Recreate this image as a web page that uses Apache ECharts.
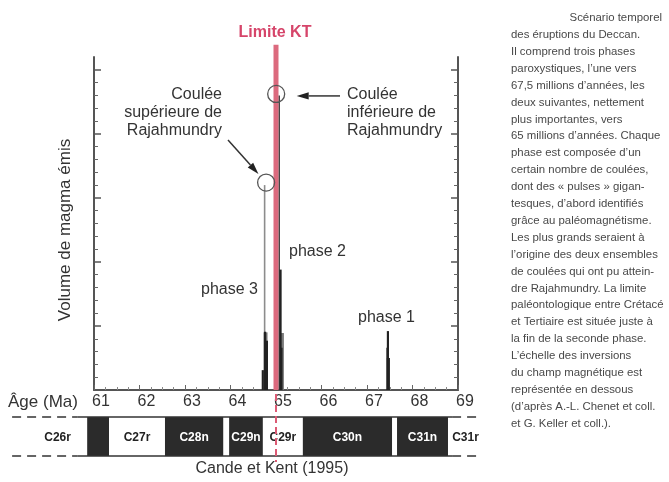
<!DOCTYPE html>
<html><head><meta charset="utf-8">
<script src="https://cdn.jsdelivr.net/npm/echarts@6/dist/echarts.min.js"></script>
<style>html,body{margin:0;padding:0;background:#fff}#c{width:669px;height:482px}</style>
</head><body><div id="c"></div>
<script>
// ---------- data ----------
const ageTicks = [61, 62, 63, 64, 65, 66, 67, 68, 69];
const volumeMajorTicks = [0, 1, 2, 3, 4, 5];
const volumeMinorTicks = [0.2,0.4,0.6,0.8,1.2,1.4,1.6,1.8,2.2,2.4,2.6,2.8,3.2,3.4,3.6,3.8,4.2,4.4,4.6,4.8];
const ktBoundaryAge = 65.0;

// big pulses (tall lines), phase 3 then phase 2
const tallPulseAge = [64.75, 65.07];
const tallPulseVolume = [3.2, 4.6];
// smaller pulses
const pulseAge    = [64.71, 64.76, 64.80, 65.10, 65.12, 67.45, 67.46, 67.46, 67.48];
const pulseVolume = [0.31, 0.91, 0.77, 1.88, 0.66, 0.66, 0.92, 0.50, 0.50];
const widePulseAge = [64.77, 65.13];
const widePulseVolume = [0.90, 0.89];

const phaseNames = ['phase 1', 'phase 2', 'phase 3'];

// magnetic polarity chrons (Cande et Kent 1995)
const chronNames  = ['C26r','C27n','C27r','C28n','C28r','C29n','C29r','C30n','C30r','C31n','C31r'];
const chronStart  = [59.55, 60.85, 61.33, 62.56, 63.84, 63.97, 64.71, 65.59, 67.55, 67.66, 68.78];
const chronEnd    = [60.85, 61.33, 62.56, 63.84, 63.97, 64.71, 65.59, 67.55, 67.66, 68.78, 69.55];
const chronNormal = [false, true, false, true, false, true, false, true, false, true, false];
const chronLabelShown = [true, false, true, true, false, true, true, true, false, true, true];
const bandSolidAges = [60.63, 68.87];
const bandDashedLeftAges = [59.2, 60.63];
const bandDashedRightAges = [68.87, 69.48];

const captionFirst = 'Scénario temporel';
const captionLines = [
  'des éruptions du Deccan.',
  'Il comprend trois phases',
  'paroxystiques, l\u2019une vers',
  '67,5 millions d\u2019années, les',
  'deux suivantes, nettement',
  'plus importantes, vers',
  '65 millions d\u2019années. Chaque',
  'phase est composée d\u2019un',
  'certain nombre de coulées,',
  'dont des « pulses » gigan-',
  'tesques, d\u2019abord identifiés',
  'grâce au paléomagnétisme.',
  'Les plus grands seraient à',
  'l\u2019origine des deux ensembles',
  'de coulées qui ont pu attein-',
  'dre Rajahmundry. La limite',
  'paléontologique entre Crétacé',
  'et Tertiaire est située juste à',
  'la fin de la seconde phase.',
  'L\u2019échelle des inversions',
  'du champ magnétique est',
  'représentée en dessous',
  '(d\u2019après A.-L. Chenet et coll.',
  'et G. Keller et coll.).'
];

// ---------- chart ----------
const FONT = 'Liberation Sans, Arial, Helvetica, sans-serif';
const chart = echarts.init(document.getElementById('c'), null, {renderer: 'canvas'});

function spikeRender(width, color) {
  return function (params, api) {
    const x = api.value(0), v = api.value(1);
    const p0 = api.coord([x, 0]);
    const p1 = api.coord([x, v]);
    return {type: 'rect', shape: {x: p0[0] - width / 2, y: p1[1], width: width, height: p0[1] - p1[1]},
            style: {fill: color}};
  };
}
function zip(a, b) { return a.map((v, i) => [v, b[i]]); }

const yBase = {type: 'value', min: 0, max: 5.2, gridIndex: 0, splitLine: {show: false}, axisLabel: {show: false}};
const axisLineStyle = {color: '#555', width: 2};

const option = {
  animation: false,
  backgroundColor: '#ffffff',
  textStyle: {fontFamily: FONT},
  grid: [
    {left: 94, top: 57, right: 211, bottom: 92},
    {left: 3, top: 417, right: 183.7, height: 39}
  ],
  xAxis: [
    {type: 'value', gridIndex: 0, min: ageTicks[0], max: ageTicks[ageTicks.length - 1], interval: 1,
     axisLine: {show: true, lineStyle: axisLineStyle},
     axisTick: {show: true, inside: true, length: 5, lineStyle: {color: '#666'}},
     minorTick: {show: true, splitNumber: 4, length: 3, lineStyle: {color: '#888'}},
     splitLine: {show: false},
     axisLabel: {show: true, fontSize: 16, color: '#333', margin: 4, padding: [0, 0, 0, 14], fontFamily: FONT}},
    {type: 'value', gridIndex: 1, min: 59, max: 69.6, show: false}
  ],
  yAxis: [
    Object.assign({}, yBase, {position: 'left', axisLine: {show: true, onZero: false, lineStyle: axisLineStyle},
      axisTick: {show: true, inside: true, length: 7, customValues: volumeMajorTicks, lineStyle: {color: '#555', width: 1.5}}}),
    Object.assign({}, yBase, {position: 'left', axisLine: {show: false},
      axisTick: {show: true, inside: true, length: 4, customValues: volumeMinorTicks, lineStyle: {color: '#666'}}}),
    Object.assign({}, yBase, {position: 'right', axisLine: {show: true, onZero: false, lineStyle: axisLineStyle},
      axisTick: {show: true, inside: true, length: 7, customValues: volumeMajorTicks, lineStyle: {color: '#555', width: 1.5}}}),
    Object.assign({}, yBase, {position: 'right', axisLine: {show: false},
      axisTick: {show: true, inside: true, length: 4, customValues: volumeMinorTicks, lineStyle: {color: '#666'}}}),
    {type: 'value', gridIndex: 1, min: 0, max: 1, show: false}
  ],
  series: [
    {type: 'custom', name: 'wide', xAxisIndex: 0, yAxisIndex: 0, z: 2,
     renderItem: spikeRender(4, '#7a7a7a'), data: zip(widePulseAge, widePulseVolume)},
    {type: 'custom', name: 'tall3', xAxisIndex: 0, yAxisIndex: 0, z: 3,
     renderItem: spikeRender(1.6, '#8c8c8c'), data: [[tallPulseAge[0], tallPulseVolume[0]]]},
    {type: 'custom', name: 'tall2', xAxisIndex: 0, yAxisIndex: 0, z: 3,
     renderItem: spikeRender(1.6, '#444'), data: [[tallPulseAge[1], tallPulseVolume[1]]]},
    {type: 'custom', name: 'pulses', xAxisIndex: 0, yAxisIndex: 0, z: 4,
     renderItem: spikeRender(2.2, '#222'), data: zip(pulseAge, pulseVolume)},
    {type: 'custom', name: 'chrons', xAxisIndex: 1, yAxisIndex: 4, z: 2,
     data: chronNames.map((n, i) => [chronStart[i], chronEnd[i], i]),
     renderItem: function (params, api) {
       const i = params.dataIndex;
       const s = api.coord([api.value(0), 0]);
       const e = api.coord([api.value(1), 1]);
       const children = [];
       if (chronNormal[i]) {
         children.push({type: 'rect', shape: {x: s[0], y: e[1], width: e[0] - s[0], height: s[1] - e[1]},
                        style: {fill: '#2b2b2b'}});
       }
       if (chronLabelShown[i]) {
         children.push({type: 'text', style: {text: chronNames[i], x: (s[0] + e[0]) / 2, y: (s[1] + e[1]) / 2 + 1,
           align: 'center', verticalAlign: 'middle', font: 'bold 12px ' + FONT,
           fill: chronNormal[i] ? '#ffffff' : '#222'}});
       }
       return {type: 'group', children: children};
     }},
    {type: 'custom', name: 'band', xAxisIndex: 1, yAxisIndex: 4, z: 3,
     data: [bandDashedLeftAges, bandSolidAges, bandDashedRightAges],
     renderItem: function (params, api) {
       const dashed = params.dataIndex !== 1;
       const a = api.coord([api.value(0), 0]);
       const b = api.coord([api.value(1), 1]);
       const st = {stroke: '#333', lineWidth: 1.6, lineDash: dashed ? [9, 6] : null};
       return {type: 'group', children: [
         {type: 'line', shape: {x1: a[0], y1: b[1], x2: b[0], y2: b[1]}, style: st},
         {type: 'line', shape: {x1: a[0], y1: a[1], x2: b[0], y2: a[1]}, style: st}
       ]};
     }}
  ]
};
chart.setOption(option);

// ---------- annotations anchored through the axes ----------
const toPx = (x, y) => chart.convertToPixel({xAxisIndex: 0, yAxisIndex: 0}, [x, y]);
const kt0 = toPx(ktBoundaryAge, 0);
const ktTop = toPx(ktBoundaryAge, 5.39);
const top3 = toPx(tallPulseAge[0], tallPulseVolume[0]);
const top2 = toPx(tallPulseAge[1], tallPulseVolume[1]);
const c3 = [top3[0] + 1.5, top3[1] - 2.5];
const c2 = [top2[0] - 3, top2[1] - 1.5];
const R = 8.5;

function arrow(from, to) {
  const dx = to[0] - from[0], dy = to[1] - from[1];
  const L = Math.sqrt(dx * dx + dy * dy), ux = dx / L, uy = dy / L;
  const hl = 12, hw = 3.6;
  const bx = to[0] - ux * hl, by = to[1] - uy * hl;
  return [
    {type: 'line', z: 20, shape: {x1: from[0], y1: from[1], x2: bx, y2: by}, style: {stroke: '#333', lineWidth: 1.5}},
    {type: 'polygon', z: 20, shape: {points: [to, [bx - uy * hw, by + ux * hw], [bx + uy * hw, by - ux * hw]]},
     style: {fill: '#222'}}
  ];
}
const a1from = [228, 140];
const d1 = [c3[0] - a1from[0], c3[1] - a1from[1]];
const d1L = Math.sqrt(d1[0] * d1[0] + d1[1] * d1[1]);
const a1to = [c3[0] - d1[0] / d1L * (R + 3), c3[1] - d1[1] / d1L * (R + 3)];
const a2from = [340, c2[1] + 2];
const a2to = [c2[0] + R + 12, c2[1] + 2];

const txt = (text, x, y, align, vAlign, font, fill, extra) =>
  Object.assign({type: 'text', z: 20, style: {text: text, x: x, y: y, align: align, verticalAlign: vAlign,
    font: font, fill: fill}}, extra || {});

const graphics = [
  // KT boundary
  {type: 'line', z: 15, shape: {x1: kt0[0], y1: ktTop[1], x2: kt0[0], y2: kt0[1]},
   style: {stroke: '#dc6a7e', lineWidth: 5}},
  {type: 'line', z: 15, shape: {x1: kt0[0], y1: kt0[1] + 4, x2: kt0[0], y2: 462},
   style: {stroke: '#dc5a74', lineWidth: 2, lineDash: [7, 4]}},
  txt('Limite KT', kt0[0] - 1, 33, 'center', 'middle', 'bold 16px ' + FONT, '#d6456a'),
  // circles
  {type: 'circle', z: 18, shape: {cx: c3[0], cy: c3[1], r: R}, style: {fill: 'none', stroke: '#555', lineWidth: 1.3}},
  {type: 'circle', z: 18, shape: {cx: c2[0], cy: c2[1], r: R}, style: {fill: 'none', stroke: '#555', lineWidth: 1.3}},
  ...arrow(a1from, a1to),
  ...arrow(a2from, a2to),
  txt('Coulée\nsupérieure de\nRajahmundry', 222, 86, 'right', 'top', '16px ' + FONT, '#333', {}),
  txt('Coulée\ninférieure de\nRajahmundry', 347, 86, 'left', 'top', '16px ' + FONT, '#333', {}),
  txt(phaseNames[2], 258, 290, 'right', 'middle', '16px ' + FONT, '#333'),
  txt(phaseNames[1], 289, 252, 'left', 'middle', '16px ' + FONT, '#333'),
  txt(phaseNames[0], 358, 318, 'left', 'middle', '16px ' + FONT, '#333'),
  txt('Volume de magma émis', 0, 0, 'center', 'middle', '17px ' + FONT, '#333',
      {x: 65, y: 230, rotation: Math.PI / 2}),
  txt('Âge (Ma)', 8, 402, 'left', 'middle', '17px ' + FONT, '#333'),
  txt('Cande et Kent (1995)', 272, 469, 'center', 'middle', '16px ' + FONT, '#333'),
  txt(captionFirst, 662, 18, 'right', 'middle', '11.4px ' + FONT, '#484848'),
  txt(captionLines.join('\n'), 511, 26.5, 'left', 'top', '11.4px ' + FONT, '#484848')
];
// line heights for multi-line texts
graphics.forEach(g => {
  if (g.type === 'text' && g.style.text.indexOf('\n') >= 0) {
    g.style.lineHeight = g.style.text.startsWith('Coulée') ? 18 : 16.9;
  }
});
chart.setOption({graphic: graphics});
</script></body></html>
